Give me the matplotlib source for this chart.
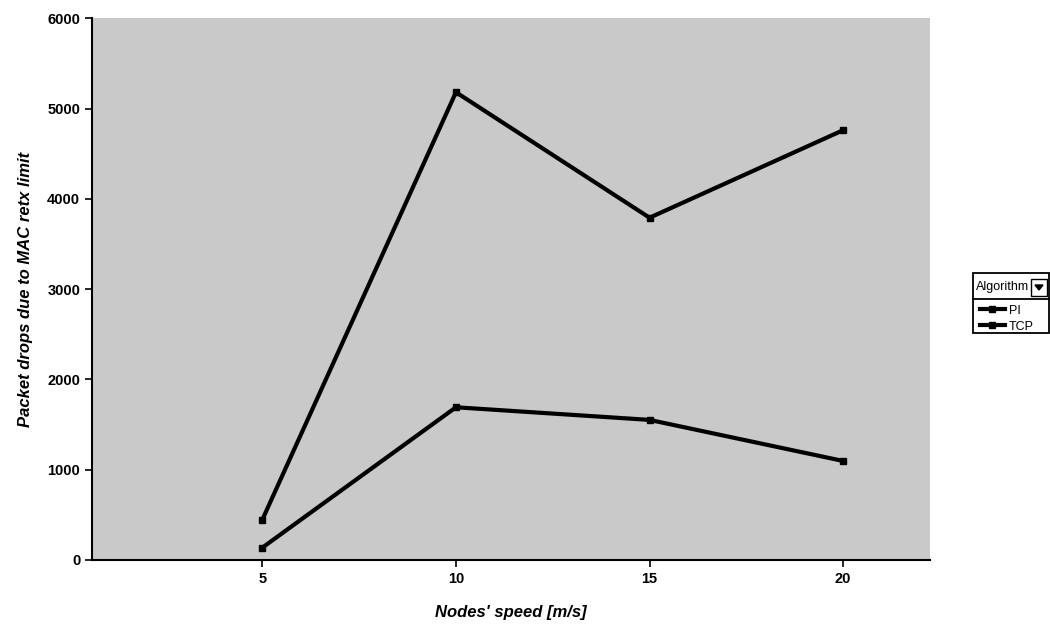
import matplotlib
matplotlib.use("Agg")
import matplotlib.pyplot as plt
from matplotlib.patches import Rectangle, Polygon
from matplotlib.lines import Line2D

plt.rcParams['font.family'] = ['Liberation Sans', 'DejaVu Sans']

speed = [5, 10, 15, 20]
pi_drops = [135, 1690, 1550, 1095]
tcp_drops = [445, 5180, 3790, 4760]
y_ticks = [0, 1000, 2000, 3000, 4000, 5000, 6000]
series_names = ['PI', 'TCP']

fig = plt.figure(figsize=(10.5, 6.29), dpi=100)
ax = fig.add_axes([0.0876, 0.110, 0.7984, 0.861])
ax.set_facecolor('#c9c9c9')

ax.plot(speed, pi_drops, color='black', lw=3, marker='s', ms=5, label=series_names[0])
ax.plot(speed, tcp_drops, color='black', lw=3, marker='s', ms=5, label=series_names[1])

ax.set_xlim(0.6, 22.25)
ax.set_ylim(0, 6000)
ax.set_xticks(speed)
ax.set_yticks(y_ticks)
ax.tick_params(axis='both', labelsize=10.5, width=1.2, length=5, direction='out')
for lab in ax.get_xticklabels() + ax.get_yticklabels():
    lab.set_fontweight('bold')
for side in ['top', 'right']:
    ax.spines[side].set_visible(False)
for side in ['left', 'bottom']:
    ax.spines[side].set_linewidth(1.5)

ax.set_xlabel("Nodes' speed [m/s]", fontsize=12, fontweight='bold', style='italic', labelpad=14)
ax.set_ylabel("Packet drops due to MAC retx limit", fontsize=12, fontweight='bold', style='italic', labelpad=10)

# legend: pivot-chart style box with "Algorithm" field and a drop-down button
W, H = 1050.0, 629.0
def fx(px): return px / W
def fy(py): return 1 - py / H

fig.add_artist(Rectangle((fx(973), fy(333)), fx(1049) - fx(973), fy(273) - fy(333),
                         transform=fig.transFigure, fill=False, ec='black', lw=1.3))
fig.add_artist(Line2D([fx(973), fx(1049)], [fy(299), fy(299)], transform=fig.transFigure,
                      color='black', lw=1.3))
fig.text(fx(976), fy(287), 'Algorithm', fontsize=9, va='center', ha='left')
fig.add_artist(Rectangle((fx(1031), fy(296)), fx(1047) - fx(1031), fy(279) - fy(296),
                         transform=fig.transFigure, fill=False, ec='black', lw=1.0))
fig.add_artist(Polygon([[fx(1035), fy(285)], [fx(1043), fy(285)], [fx(1039), fy(290)]],
                       closed=True, transform=fig.transFigure, color='black'))

fig.legend(handles=ax.get_lines(), labels=series_names, loc='upper left',
           bbox_to_anchor=(fx(971), fy(296)), frameon=False, fontsize=9,
           handlelength=2.0, handletextpad=0.3, borderpad=0.2, labelspacing=0.3,
           markerscale=0.8)

fig.savefig('out.png', dpi=100)
